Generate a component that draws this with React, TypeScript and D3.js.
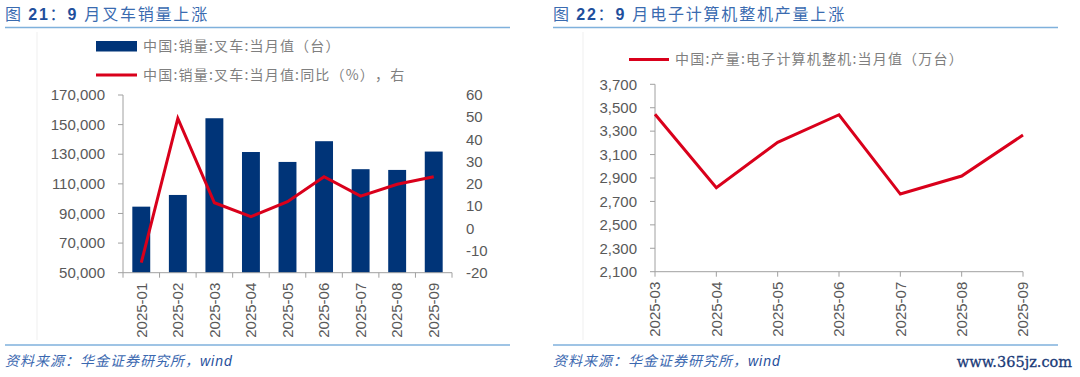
import React from "react";
import * as d3 from "d3";

const months1 = ["2025-01","2025-02","2025-03","2025-04","2025-05","2025-06","2025-07","2025-08","2025-09"];
const forkliftSales = [94600,102500,154300,131500,124800,138800,119900,119400,131800];
const forkliftYoY = [-15.5,49.5,11.5,5.2,12,23.2,14.5,19.8,23.2];
const leftTicks = [50000,70000,90000,110000,130000,150000,170000];
const rightTicks = [-20,-10,0,10,20,30,40,50,60];

const months2 = ["2025-03","2025-04","2025-05","2025-06","2025-07","2025-08","2025-09"];
const computerOutput = [3444,2817,3205,3440,2763,2917,3267];
const ticks2 = [2100,2300,2500,2700,2900,3100,3300,3500,3700];

const title1 = "月叉车销量上涨";
const title2 = "月电子计算机整机产量上涨";
const legendBar1 = "中国:销量:叉车:当月值（台）";
const legendLine1 = "中国:销量:叉车:当月值:同比（%），右";
const legendLine2 = "中国:产量:电子计算机整机:当月值（万台）";
const sourceText = "资料来源：华金证券研究所，";

const NAVY = "#003478";
const RED = "#d9001b";
const AXIS = "#a0a0a0";
const TICKTXT = "#595959";
const LEGTXT = "#7f7f7f";
const TITLE = "#3a6bb0";
const RULE = "#7fb1dc";
const NUMF = "'Liberation Sans', Arial, sans-serif";
const CJK = "'Noto Sans CJK SC', sans-serif";
const NOTRIM: any = { textSpacingTrim: "space-all" };

const fmt = d3.format(",");

function Title({ x, num, text, x2 }: { x: number; num: string; text: string; x2: number }) {
  return (
    <g>
      <text x={x} y={20} fontSize={16} fill={TITLE} fontFamily={CJK} letterSpacing={1.8} style={NOTRIM}>
        <tspan>图 </tspan>
        <tspan fontFamily={NUMF} fontWeight="bold" fill="#1f4f9c">{num}</tspan>
        <tspan fill="#1f4f9c">：</tspan>
        <tspan fontFamily={NUMF} fontWeight="bold" fill="#1f4f9c">9 </tspan>
        <tspan>{text}</tspan>
      </text>
      <line x1={x} x2={x2} y1={27.5} y2={27.5} stroke={RULE} strokeWidth={1.5} />
      <line x1={x} x2={x2} y1={345} y2={345} stroke={RULE} strokeWidth={1.5} />
      <text x={x} y={366} fontSize={14} fill="#3b68b0" fontFamily={CJK} fontStyle="italic" letterSpacing={1} style={NOTRIM}>
        {sourceText}
        <tspan fontFamily={NUMF} fill="#1f4f9c">wind</tspan>
      </text>
    </g>
  );
}

function LeftChart() {
  const x0 = 123, x1 = 452, yTop = 95, yBot = 272.7;
  const xb = d3.scaleBand<string>().domain(months1).range([x0, x1]).padding(0);
  const yL = d3.scaleLinear().domain([50000, 170000]).range([yBot, yTop]);
  const yR = d3.scaleLinear().domain([-20, 60]).range([yBot, yTop]);
  const bw = xb.bandwidth() * 0.49;
  const line = d3.line<number>()
    .x((_, i) => (xb(months1[i]) as number) + xb.bandwidth() / 2)
    .y((d) => yR(d));
  const bounds = months1.map((m) => xb(m) as number).concat([x1]);
  return (
    <g>
      <line x1={37} x2={37} y1={32} y2={340} stroke="#efefef" />
      <rect x={96} y={41} width={41} height={10.5} fill={NAVY} />
      <text x={143} y={46.5} dy="0.35em" fontSize={14} fill={LEGTXT} fontFamily={CJK} letterSpacing={1.2} style={NOTRIM}>{legendBar1}</text>
      <line x1={96} x2={137} y1={75} y2={75} stroke={RED} strokeWidth={3} />
      <text x={143} y={75} dy="0.35em" fontSize={14} fill={LEGTXT} fontFamily={CJK} letterSpacing={1.2} style={NOTRIM}>{legendLine1}</text>
      {forkliftSales.map((v, i) => (
        <rect key={i} x={(xb(months1[i]) as number) + (xb.bandwidth() - bw) / 2} y={yL(v)} width={bw} height={yBot - yL(v)} fill={NAVY} />
      ))}
      <line x1={x0} x2={x0} y1={yTop} y2={yBot} stroke={AXIS} />
      {leftTicks.map((t) => (
        <g key={t}>
          <line x1={x0 - 5} x2={x0} y1={yL(t)} y2={yL(t)} stroke={AXIS} />
          <text x={x0 - 18} y={yL(t)} dy="0.35em" textAnchor="end" fontSize={15} fill={TICKTXT} fontFamily={NUMF}>{fmt(t)}</text>
        </g>
      ))}
      {rightTicks.map((t) => (
        <text key={t} x={466} y={yR(t)} dy="0.35em" fontSize={15} fill={TICKTXT} fontFamily={NUMF}>{t}</text>
      ))}
      <line x1={x0} x2={x1} y1={yBot} y2={yBot} stroke={AXIS} />
      {bounds.map((b, i) => (
        <line key={i} x1={b} x2={b} y1={yBot} y2={yBot + 5} stroke={AXIS} />
      ))}
      {months1.map((m) => {
        const cx = (xb(m) as number) + xb.bandwidth() / 2;
        return (
          <text key={m} transform={`translate(${cx},${yBot + 10}) rotate(-90)`} dy="0.35em" textAnchor="end" fontSize={15} fill={TICKTXT} fontFamily={NUMF}>{m}</text>
        );
      })}
      <path d={line(forkliftYoY) as string} fill="none" stroke={RED} strokeWidth={3} strokeLinejoin="miter" />
    </g>
  );
}

function RightChart() {
  const x0 = 655, x1 = 1023, yTop = 84.3, yBot = 271.7;
  const xp = d3.scalePoint<string>().domain(months2).range([x0, x1]);
  const y = d3.scaleLinear().domain([2100, 3700]).range([yBot, yTop]);
  const line = d3.line<number>().x((_, i) => xp(months2[i]) as number).y((d) => y(d));
  return (
    <g>
      <line x1={583} x2={583} y1={32} y2={340} stroke="#efefef" />
      <line x1={629} x2={669} y1={59.5} y2={59.5} stroke={RED} strokeWidth={3} />
      <text x={675} y={59.5} dy="0.35em" fontSize={14} fill={LEGTXT} fontFamily={CJK} letterSpacing={1.2} style={NOTRIM}>{legendLine2}</text>
      <line x1={x0} x2={x0} y1={yTop} y2={yBot} stroke={AXIS} />
      {ticks2.map((t) => (
        <g key={t}>
          <line x1={x0 - 5} x2={x0} y1={y(t)} y2={y(t)} stroke={AXIS} />
          <text x={x0 - 18} y={y(t)} dy="0.35em" textAnchor="end" fontSize={15} fill={TICKTXT} fontFamily={NUMF}>{fmt(t)}</text>
        </g>
      ))}
      <line x1={x0} x2={x1} y1={yBot} y2={yBot} stroke={AXIS} />
      {months2.map((m) => {
        const cx = xp(m) as number;
        return (
          <g key={m}>
            <line x1={cx} x2={cx} y1={yBot} y2={yBot + 5} stroke={AXIS} />
            <text transform={`translate(${cx},${yBot + 10}) rotate(-90)`} dy="0.35em" textAnchor="end" fontSize={15} fill={TICKTXT} fontFamily={NUMF}>{m}</text>
          </g>
        );
      })}
      <path d={line(computerOutput) as string} fill="none" stroke={RED} strokeWidth={3} strokeLinejoin="miter" />
      <text x={1072} y={367} textAnchor="end" fontSize={14.5} fill="#1a3a78" stroke="#1a3a78" strokeWidth={0.3} fontFamily="'DejaVu Serif', 'Liberation Serif', serif">www.365jz.com</text>
    </g>
  );
}

export default function App() {
  return (
    <svg width={1080} height={377} style={{ position: "absolute", left: 0, top: 0, background: "#fff" }}>
      <rect width={1080} height={377} fill="#fff" />
      <Title x={5} num="21" text={title1} x2={510} />
      <Title x={553} num="22" text={title2} x2={1058} />
      <LeftChart />
      <RightChart />
    </svg>
  );
}
